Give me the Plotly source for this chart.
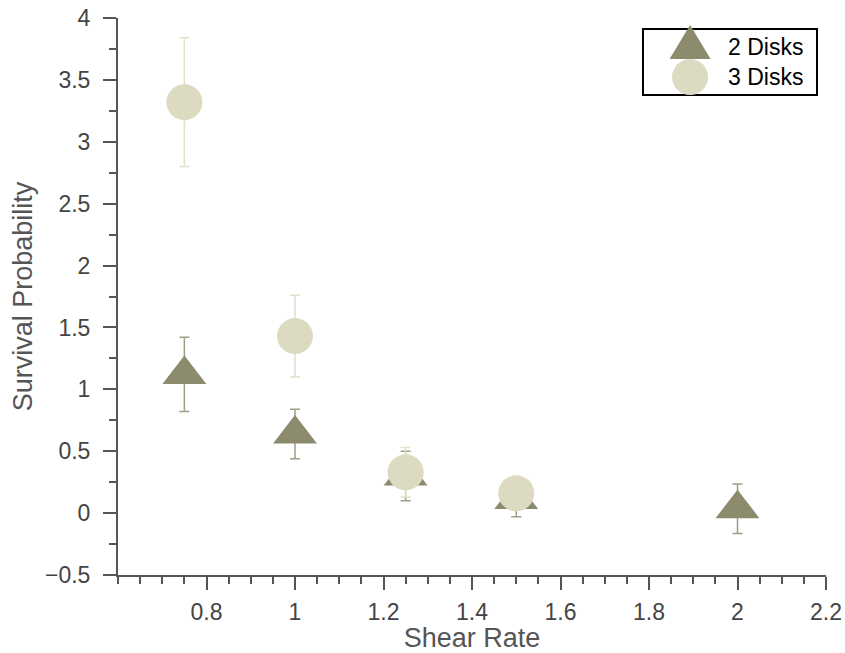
import plotly.graph_objects as go

# Shear rate values and survival probabilities with error estimates
shear_2 = [0.75, 1.0, 1.25, 1.5, 2.0]
surv_2 = [1.12, 0.64, 0.30, 0.11, 0.036]
err_2 = [0.30, 0.20, 0.20, 0.14, 0.20]

shear_3 = [0.75, 1.0, 1.25, 1.5]
surv_3 = [3.32, 1.43, 0.33, 0.16]
err_3 = [0.52, 0.33, 0.20, 0.10]

series_names = ["2 Disks", "3 Disks"]

x_ticks = [0.8, 1.0, 1.2, 1.4, 1.6, 1.8, 2.0, 2.2]
x_tick_text = ["0.8", "1", "1.2", "1.4", "1.6", "1.8", "2", "2.2"]
y_ticks = [-0.5, 0, 0.5, 1, 1.5, 2, 2.5, 3, 3.5, 4]
y_tick_text = ["\u22120.5", "0", "0.5", "1", "1.5", "2", "2.5", "3", "3.5", "4"]

FONT = "Liberation Sans, Arial, sans-serif"
AXIS_COLOR = "#555555"
TRI_COLOR = "#8c8b6d"
CIRC_COLOR = "#dcdbc2"

fig = go.Figure()

fig.add_trace(go.Scatter(
    x=shear_2, y=surv_2, mode="markers", name=series_names[0],
    marker=dict(symbol="triangle-up", size=38, color=TRI_COLOR, line=dict(width=0)),
    error_y=dict(type="data", array=err_2, visible=True, color="#9f9e86",
                 thickness=1.5, width=5),
))
fig.add_trace(go.Scatter(
    x=shear_3, y=surv_3, mode="markers", name=series_names[1],
    marker=dict(symbol="circle", size=36, color=CIRC_COLOR, line=dict(width=0)),
    error_y=dict(type="data", array=err_3, visible=True, color="#e2e1cc",
                 thickness=1.5, width=5),
))

axis_common = dict(
    showgrid=False, zeroline=False, showline=True, linecolor=AXIS_COLOR,
    linewidth=2, ticks="outside", ticklen=13, tickwidth=2, tickcolor=AXIS_COLOR,
    tickfont=dict(family=FONT, size=23, color="#444444"),
    automargin=False,
)

fig.update_xaxes(
    range=[0.6, 2.2], tickmode="array", tickvals=x_ticks, ticktext=x_tick_text,
    minor=dict(dtick=0.05, tick0=0.6, ticks="outside", ticklen=7,
               tickwidth=2, tickcolor=AXIS_COLOR),
    title=dict(text="Shear Rate", font=dict(family=FONT, size=27, color="#555555"),
               standoff=4),
    ticklabelstandoff=2,
    **axis_common,
)
fig.update_yaxes(
    range=[-0.5, 4], tickmode="array", tickvals=y_ticks, ticktext=y_tick_text,
    minor=dict(dtick=0.25, tick0=-0.5, ticks="outside", ticklen=7,
               tickwidth=2, tickcolor=AXIS_COLOR),
    title=dict(text="Survival Probability", font=dict(family=FONT, size=27, color="#555555"),
               standoff=5),
    ticklabelstandoff=8,
    **axis_common,
)

# Boxed key in the upper right, with full-size symbols
key_x, key_y0, key_y1 = 0.7415, 0.8618, 0.9803
sym_x = 0.808
row_y = [0.957, 0.894]
text_x = 0.9703

fig.add_shape(type="rect", xref="paper", yref="paper",
              x0=key_x, x1=0.9873, y0=key_y0, y1=key_y1,
              line=dict(color="black", width=2), fillcolor="white", layer="above")
fig.add_shape(type="path", xref="paper", yref="paper",
              xsizemode="pixel", ysizemode="pixel",
              xanchor=sym_x, yanchor=row_y[0],
              path="M -20.5,-17 L 20.5,-17 L 0,17 Z",
              fillcolor=TRI_COLOR, line=dict(width=0), layer="above")
fig.add_shape(type="circle", xref="paper", yref="paper",
              xsizemode="pixel", ysizemode="pixel",
              xanchor=sym_x, yanchor=row_y[1],
              x0=-18, x1=18, y0=-18, y1=18,
              fillcolor=CIRC_COLOR, line=dict(width=0), layer="above")
for name, yy in zip(series_names, [0.948, 0.894]):
    fig.add_annotation(text=name, xref="paper", yref="paper", x=text_x, y=yy,
                       xanchor="right", yanchor="middle", showarrow=False,
                       font=dict(family=FONT, size=23, color="black"))

fig.update_layout(
    width=845, height=653,
    margin=dict(l=118, r=19, t=18, b=78),
    plot_bgcolor="white", paper_bgcolor="white",
    showlegend=False,
)

fig.write_html("out.html")
